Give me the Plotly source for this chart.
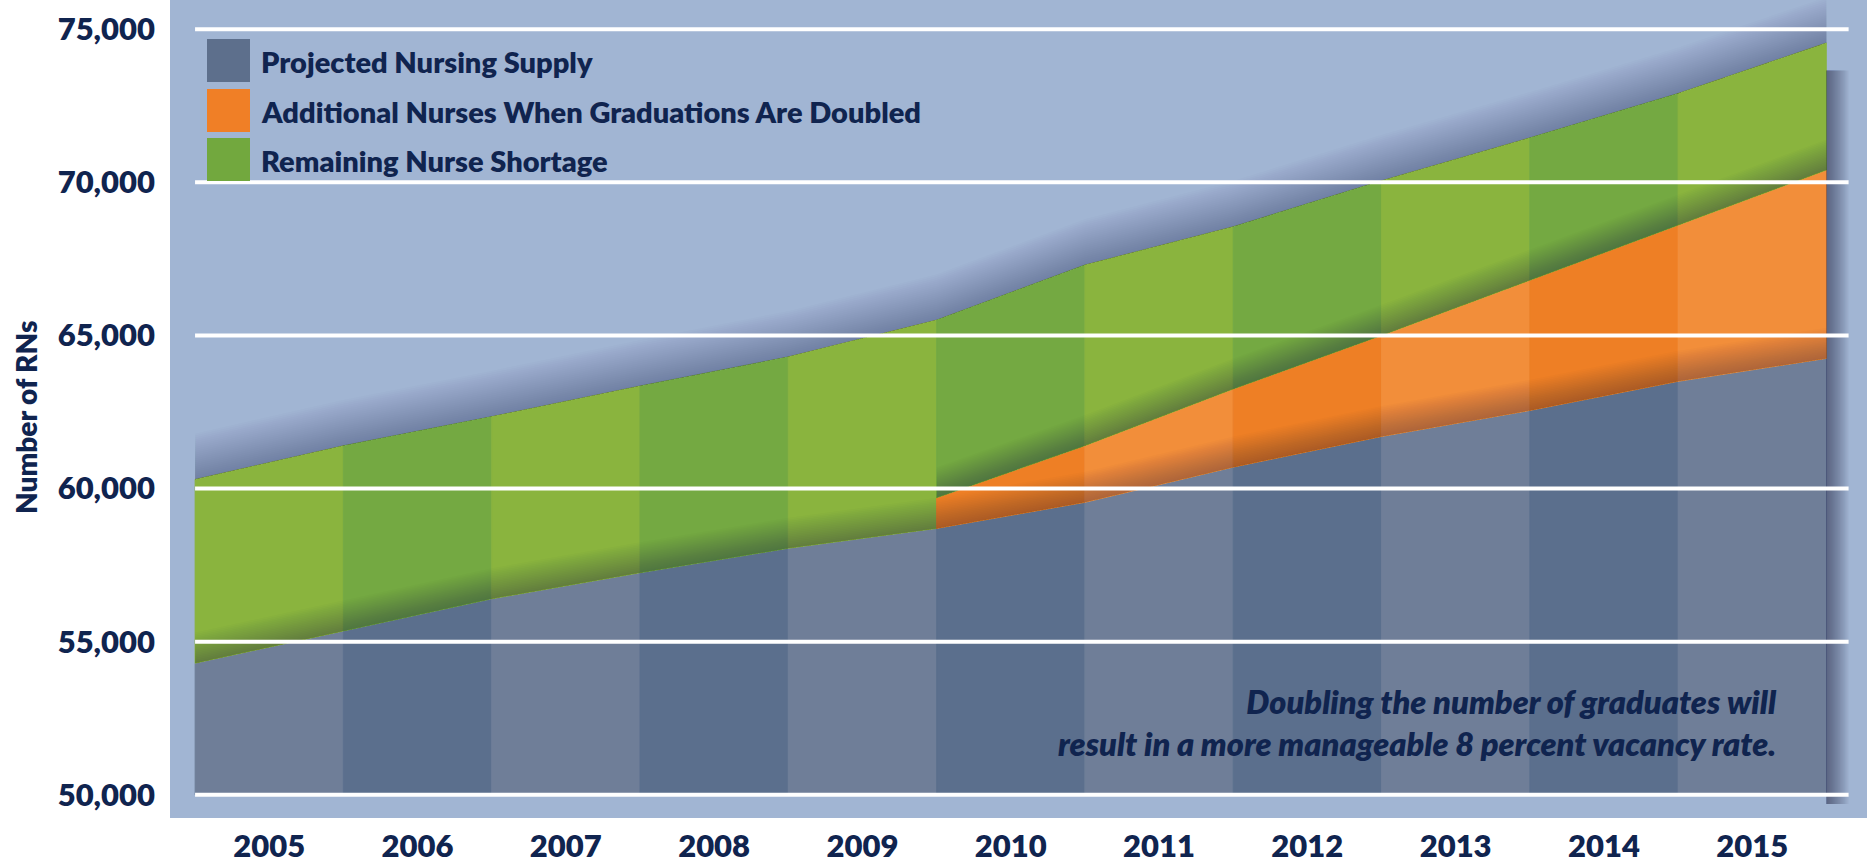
import plotly.graph_objects as go

# ---------------- data ----------------
years = [2005, 2006, 2007, 2008, 2009, 2010, 2011, 2012, 2013, 2014, 2015]
# values read at the 12 boundaries between the year columns
supply_edges = [54300, 55350, 56400, 57250, 58050, 58700, 59550, 60700, 61700, 62550, 63500, 64250]
doubled_edges = [None, None, None, None, None, 59700, 61400, 63250, 65000, 66800, 68600, 70400]
demand_edges = [60300, 61400, 62350, 63350, 64300, 65500, 67300, 68550, 70050, 71450, 72900, 74550]
y_ticks = [50000, 55000, 60000, 65000, 70000, 75000]
series_names = ["Projected Nursing Supply",
                "Additional Nurses When Graduations Are Doubled",
                "Remaining Nurse Shortage"]
note_lines = ["Doubling the number of graduates will",
              "result in a more manageable 8 percent vacancy rate."]
y_title = "Number of RNs"

# ---------------- style ----------------
NAVY = "#10244F"
BG = "#A1B5D3"
supply_cols = ("#6F7E98", "#5B6F8D")
orange_cols = ("#F28E3A", "#EE7F25")
green_cols = ("#8AB43E", "#74A942")
legend_cols = ("#5D6F8C", "#F07F26", "#72A83E")
FONT = "Lato"
WEIGHT = 800

base = y_ticks[0]
edges = [y - 0.5 for y in years] + [years[-1] + 0.5]

fig = go.Figure()


def poly(xs, ys, color):
    fig.add_trace(go.Scatter(
        x=xs + [xs[0]], y=ys + [ys[0]], mode="lines", fill="toself",
        fillcolor=color, line=dict(width=0.8, color=color),
        hoverinfo="skip", showlegend=False))


# banded columns
for i, yr in enumerate(years):
    x0, x1 = edges[i], edges[i + 1]
    k = i % 2
    s0, s1 = supply_edges[i], supply_edges[i + 1]
    poly([x0, x1, x1, x0], [base, base, s1, s0], supply_cols[k])
    if doubled_edges[i] is not None:
        d0, d1 = doubled_edges[i], doubled_edges[i + 1]
        poly([x0, x1, x1, x0], [s0, s1, d1, d0], orange_cols[k])
        b0, b1 = d0, d1
    else:
        b0, b1 = s0, s1
    poly([x0, x1, x1, x0], [b0, b1, demand_edges[i + 1], demand_edges[i]], green_cols[k])


# soft shadows above each boundary
def shadow(xs, ys, h_total, n, alpha):
    for j in range(1, n + 1):
        h = h_total * j / n
        fig.add_trace(go.Scatter(
            x=xs + xs[::-1] + [xs[0]],
            y=ys + [v + h for v in ys[::-1]] + [ys[0]],
            mode="lines", fill="toself", fillcolor=f"rgba(25,30,45,{alpha})",
            line=dict(width=0), hoverinfo="skip", showlegend=False))


shadow(edges, supply_edges, 1000, 18, 0.016)
first = next(i for i, v in enumerate(doubled_edges) if v is not None)
shadow(edges[first:], doubled_edges[first:], 1000, 18, 0.016)
shadow(edges, demand_edges, 1500, 24, 0.013)

# drop shadow right of the data block
for j in range(1, 19):
    w = 0.15 * j / 18
    xr = edges[-1]
    fig.add_trace(go.Scatter(
        x=[xr, xr + w, xr + w, xr, xr],
        y=[base - 300, base - 300, demand_edges[-1] - 900, demand_edges[-1] - 900, base - 300],
        mode="lines", fill="toself", fillcolor="rgba(30,35,45,0.035)",
        line=dict(width=0), hoverinfo="skip", showlegend=False))

shapes = []
# white gridlines on top
for t in y_ticks:
    shapes.append(dict(type="line", xref="x", yref="y", x0=edges[0], x1=edges[-1] + 0.15,
                       y0=t, y1=t, line=dict(color="white", width=4), layer="above"))

# manual legend
L, W, H = 170, 1697, 818
def px(x):
    return (x - L) / W
def py(y):
    return 1 - y / H

annotations = []
sw_top = [39, 89, 138]
for k, name in enumerate(series_names):
    shapes.append(dict(type="rect", xref="paper", yref="paper",
                       x0=px(207), x1=px(250), y0=py(sw_top[k] + 43), y1=py(sw_top[k]),
                       fillcolor=legend_cols[k], line=dict(width=0), layer="above"))
    annotations.append(dict(xref="paper", yref="paper", x=px(259), y=py(sw_top[k] + 23),
                            text=name, showarrow=False, xanchor="left", yanchor="middle",
                            font=dict(family=FONT, size=29, color=NAVY, weight=WEIGHT)))

annotations.append(dict(xref="paper", yref="paper", x=px(1779), y=py(722),
                        text="<br>".join(note_lines), showarrow=False, xanchor="right",
                        yanchor="middle", align="right",
                        font=dict(family=FONT, size=32.5, color=NAVY, weight=WEIGHT, style="italic")))
annotations.append(dict(xref="paper", yref="paper", x=px(26), y=py(418), text=y_title,
                        textangle=-90, showarrow=False, xanchor="center", yanchor="middle",
                        font=dict(family=FONT, size=28, color=NAVY, weight=WEIGHT)))

fig.update_layout(
    width=1871, height=863, autosize=False,
    margin=dict(l=170, r=4, t=0, b=45, autoexpand=False),
    paper_bgcolor="white", plot_bgcolor=BG,
    shapes=shapes, annotations=annotations, showlegend=False,
    xaxis=dict(range=[2004.331, 2015.774], tickvals=years, ticktext=[str(y) for y in years],
               showgrid=False, zeroline=False, showline=False, ticks="", automargin=False,
               ticklabelstandoff=7,
               tickfont=dict(family=FONT, size=31, color=NAVY, weight=WEIGHT), fixedrange=True),
    yaxis=dict(range=[49245, 75951], tickvals=y_ticks, ticktext=[f"{t:,}" for t in y_ticks],
               showgrid=False, zeroline=False, showline=False, ticks="", automargin=False,
               ticklabelstandoff=14,
               tickfont=dict(family=FONT, size=31, color=NAVY, weight=WEIGHT), fixedrange=True),
)

fig.write_html("out.html", config={"displayModeBar": False})
